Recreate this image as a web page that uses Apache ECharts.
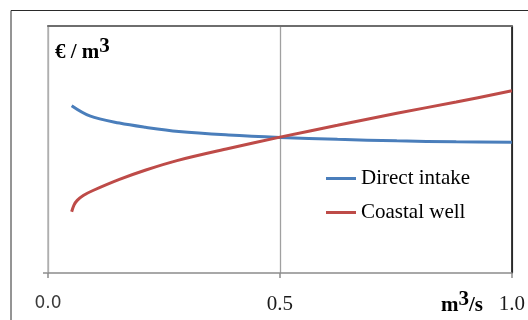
<!DOCTYPE html>
<html>
<head>
<meta charset="utf-8">
<script src="https://cdn.jsdelivr.net/npm/echarts@6/dist/echarts.min.js"></script>
<style>
html,body{margin:0;padding:0;background:#fff;}
#chart{width:528px;height:320px;}
</style>
</head>
<body>
<div id="chart"></div>
<script>
// Flow rate (m3/s) and unit cost (relative, €/m3)
var directX = [0.051, 0.09, 0.154, 0.21, 0.282, 0.389, 0.5, 0.624, 0.752, 0.88, 1.0];
var directY = [0.677, 0.636, 0.607, 0.590, 0.573, 0.559, 0.549, 0.541, 0.535, 0.531, 0.529];
var coastalX = [0.051, 0.056, 0.063, 0.076, 0.097, 0.154, 0.211, 0.278, 0.389, 0.5, 0.624, 0.752, 0.88, 1.0];
var coastalY = [0.248, 0.275, 0.294, 0.314, 0.334, 0.379, 0.417, 0.455, 0.504, 0.550, 0.598, 0.647, 0.692, 0.738];
var seriesNames = ['Direct intake', 'Coastal well'];
var xTicks = [0, 0.5, 1.0];
var xTickLabels = ['0.0', '0.5', '1.0'];

function pairs(xs, ys) { return xs.map(function (x, i) { return [x, ys[i]]; }); }

var chart = echarts.init(document.getElementById('chart'), null, {renderer: 'canvas'});
var serif = '"Liberation Serif", "Times New Roman", serif';
chart.setOption({
  animation: false,
  grid: {left: 48, top: 26, right: 12, bottom: 47, containLabel: false},
  legend: {
    orient: 'vertical', left: 326, top: 168, itemGap: 13, padding: 0,
    itemWidth: 30, itemHeight: 3, icon: 'rect',
    textStyle: {fontFamily: serif, fontSize: 21, color: '#000'},
    data: seriesNames
  },
  xAxis: [{
    type: 'value', min: 0, max: 1, interval: 0.5,
    axisLine: {show: true, onZero: false, lineStyle: {color: '#8c8c8c', width: 1.5}},
    axisTick: {show: true, length: 5, lineStyle: {color: '#8c8c8c', width: 1.5}},
    splitLine: {show: true, lineStyle: {color: '#a0a0a0', width: 1.3}},
    axisLabel: {
      margin: 21,
      formatter: function (v) {
        var i = xTicks.indexOf(v);
        var t = i >= 0 ? xTickLabels[i] : '';
        return i === 0 ? '{s|' + t + '}' : '{r|' + t + '}';
      },
      rich: {
        s: {fontFamily: '"DejaVu Sans", sans-serif', fontSize: 17, lineHeight: 20, color: '#3a3a3a'},
        r: {fontFamily: serif, fontSize: 21, lineHeight: 20, color: '#1a1a1a'}
      }
    }
  }, {
    type: 'value', min: 0, max: 1, position: 'top',
    axisLine: {show: true, onZero: false, lineStyle: {color: '#6e6e6e', width: 2}},
    axisTick: {show: false}, axisLabel: {show: false}, splitLine: {show: false}
  }],
  yAxis: [{
    type: 'value', min: 0, max: 1, position: 'left',
    axisLine: {show: true, onZero: false, lineStyle: {color: '#b4b4b4', width: 1.5}},
    axisTick: {show: false}, axisLabel: {show: false}, splitLine: {show: false}
  }, {
    type: 'value', min: 0, max: 1, position: 'right',
    axisLine: {show: true, onZero: false, lineStyle: {color: '#000', width: 1.5}},
    axisTick: {show: false}, axisLabel: {show: false}, splitLine: {show: false}
  }],
  series: [{
    name: seriesNames[0], type: 'line', smooth: 0.35, showSymbol: false,
    lineStyle: {color: '#4a7ebb', width: 3}, itemStyle: {color: '#4a7ebb'},
    data: pairs(directX, directY)
  }, {
    name: seriesNames[1], type: 'line', smooth: 0.35, showSymbol: false,
    lineStyle: {color: '#be4b48', width: 3}, itemStyle: {color: '#be4b48'},
    data: pairs(coastalX, coastalY)
  }],
  graphic: [
    {type: 'rect', shape: {x: 11, y: 10.5, width: 700, height: 500}, style: {fill: null, stroke: '#2a2a2a', lineWidth: 1}, silent: true, z: -10},
    {type: 'line', shape: {x1: 43, y1: 273, x2: 48, y2: 273}, style: {stroke: '#8c8c8c', lineWidth: 1.5}},
    {type: 'text', left: 55, top: 36, style: {
      text: '{a|€ / m}{s|3}',
      rich: {
        a: {fontFamily: serif, fontWeight: 'bold', fontSize: 21, color: '#000', verticalAlign: 'bottom'},
        s: {fontFamily: serif, fontWeight: 'bold', fontSize: 21, color: '#000', verticalAlign: 'bottom', padding: [0, 0, 6, 0]}
      }
    }},
    {type: 'text', left: 441, top: 289, style: {
      text: '{a|m}{s|3}{a|/s}',
      rich: {
        a: {fontFamily: serif, fontWeight: 'bold', fontSize: 21, color: '#000', verticalAlign: 'bottom'},
        s: {fontFamily: serif, fontWeight: 'bold', fontSize: 21, color: '#000', verticalAlign: 'bottom', padding: [0, 0, 6, 0]}
      }
    }}
  ]
});
</script>
</body>
</html>
